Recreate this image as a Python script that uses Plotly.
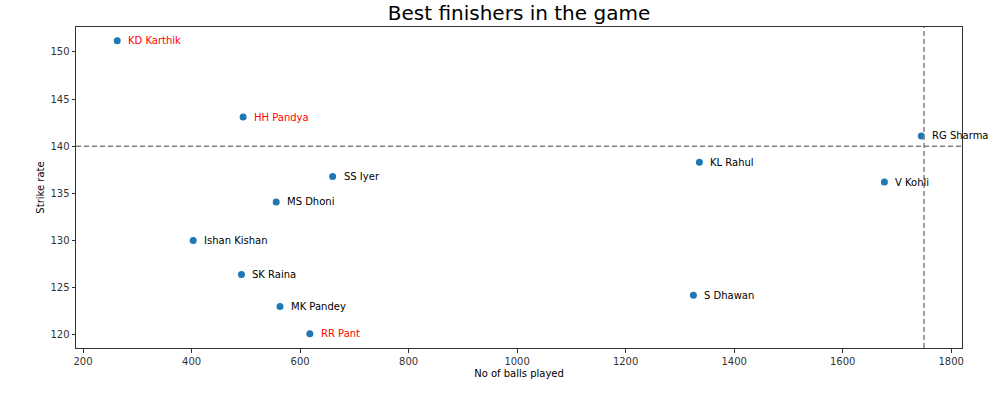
import plotly.graph_objects as go

players = ["KD Karthik", "HH Pandya", "RG Sharma", "KL Rahul", "V Kohli", "SS Iyer",
           "MS Dhoni", "Ishan Kishan", "SK Raina", "S Dhawan", "MK Pandey", "RR Pant"]
balls = [263, 495, 1745, 1336, 1677, 660, 556, 403, 492, 1325, 563, 618]
strike_rate = [151.2, 143.1, 141.1, 138.3, 136.2, 136.8, 134.1, 130.0, 126.4, 124.2, 123.0, 120.1]
label_colors = ["red", "red", "black", "black", "black", "black",
                "black", "black", "black", "black", "black", "red"]
sr_threshold = 140
balls_threshold = 1750

fig = go.Figure()
fig.add_trace(go.Scatter(
    x=balls, y=strike_rate, mode="markers",
    marker=dict(color="#1f77b4", size=7, line=dict(width=0)),
    showlegend=False, hoverinfo="skip",
))

for name, xv, yv, c in zip(players, balls, strike_rate, label_colors):
    fig.add_annotation(x=xv, y=yv, text=name, showarrow=False, xanchor="left",
                       yanchor="middle", xshift=9, font=dict(color=c, size=10,
                       family="DejaVu Sans"))

fig.add_shape(type="line", xref="paper", x0=0, x1=1, yref="y", y0=sr_threshold, y1=sr_threshold,
              line=dict(color="gray", width=1.5, dash="5px,3px"))
fig.add_shape(type="line", yref="paper", y0=0, y1=1, xref="x", x0=balls_threshold, x1=balls_threshold,
              line=dict(color="gray", width=1.5, dash="5px,3px"))

axis_common = dict(showgrid=False, zeroline=False, showline=True, linecolor="#333333",
                   linewidth=1, mirror=True, ticks="outside", ticklen=3.5,
                   tickcolor="#333333", tickfont=dict(size=10, color="#333333", family="DejaVu Sans"))

fig.update_xaxes(range=[187, 1820], tickvals=[200, 400, 600, 800, 1000, 1200, 1400, 1600, 1800],
                 title=dict(text="No of balls played", font=dict(size=10, color="black", family="DejaVu Sans"),
                            standoff=4),
                 **axis_common)
fig.update_yaxes(range=[118.6, 152.65], tickvals=[120, 125, 130, 135, 140, 145, 150],
                 title=dict(text="Strike rate", font=dict(size=10, color="black", family="DejaVu Sans"),
                            standoff=3),
                 **axis_common)

fig.update_layout(
    width=1000, height=396,
    margin=dict(l=76, r=38, t=27, b=48),
    plot_bgcolor="white", paper_bgcolor="white",
    title=dict(text="Best finishers in the game", x=(76 + 962) / 2 / 1000, xanchor="center",
               y=1 - 13 / 396, yanchor="middle", font=dict(size=20, color="black", family="DejaVu Sans")),
)

fig.write_html("out.html", config={"displayModeBar": False},
               post_script="document.body.style.margin='0px';")
